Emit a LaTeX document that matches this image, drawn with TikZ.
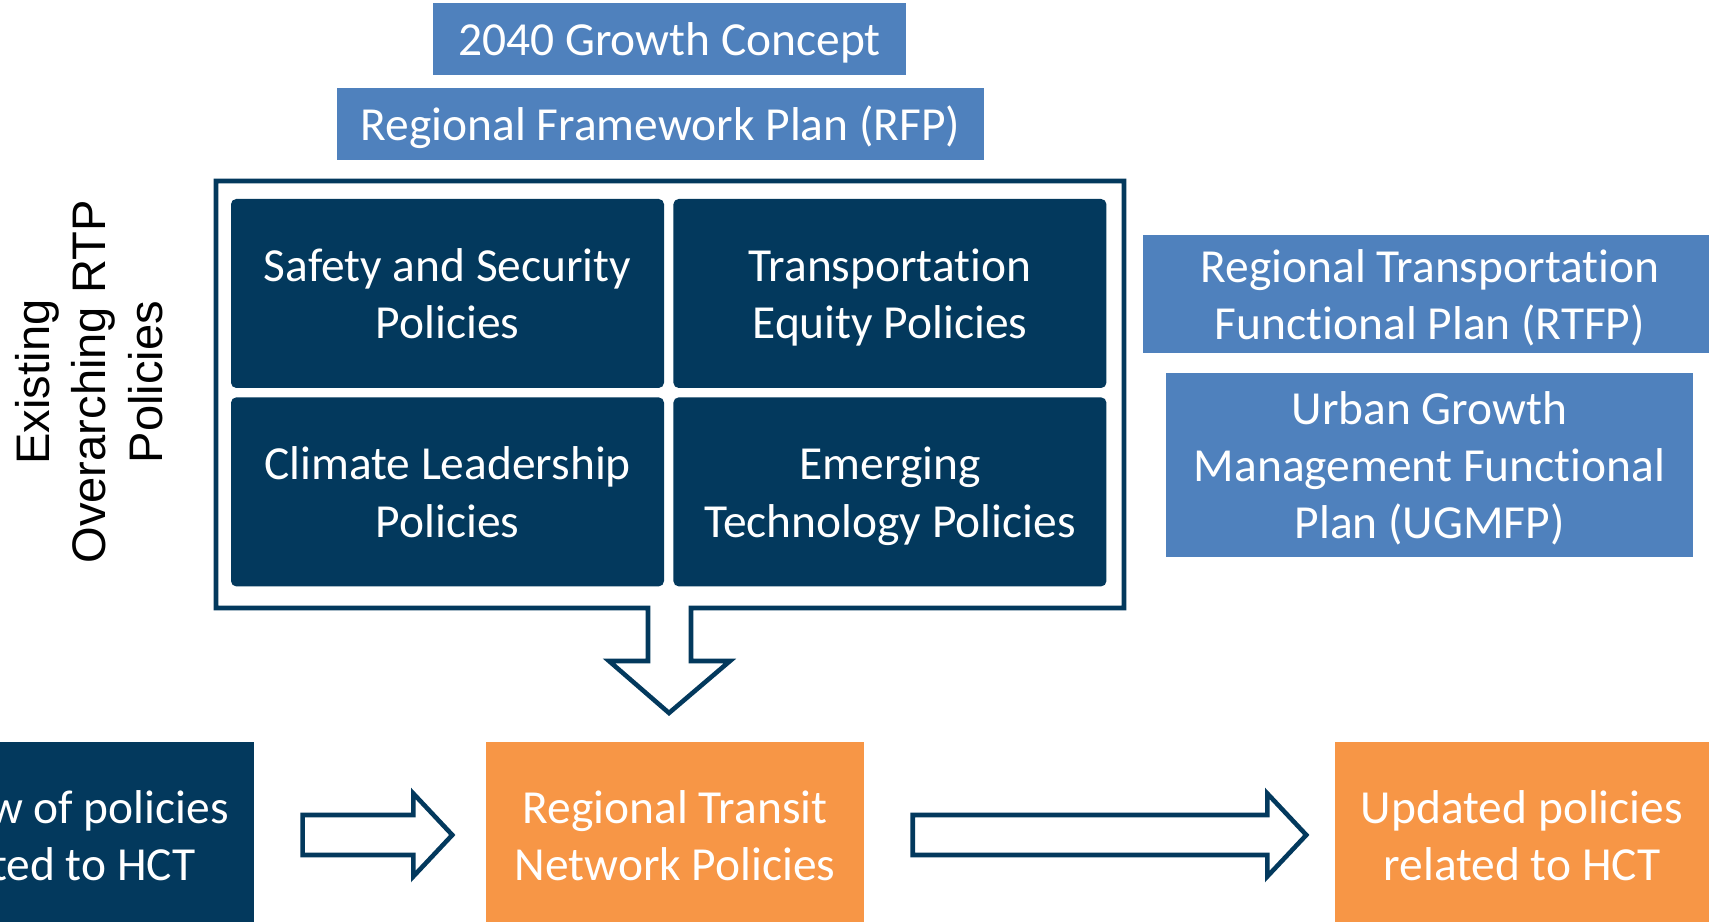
\documentclass[tikz,border=0pt]{standalone}
\usepackage{fontspec}
\setmainfont[Ligatures=NoCommon]{Carlito}
\newfontfamily\arialfont{Liberation Sans}
\usepackage{tikz}
\usetikzlibrary{calc,positioning}
\definecolor{navy}{RGB}{3,57,93}
\definecolor{planblue}{RGB}{79,129,189}
\definecolor{hctorange}{RGB}{247,150,70}
\newcommand{\boxfont}{\fontsize{13.5}{16.3}\selectfont}
% fixed first-line height and last-line depth, so all boxes centre alike
\newcommand{\lines}[1]{\rule{0pt}{12pt}#1\rule[-2.5pt]{0pt}{2.5pt}}
\newcommand{\linestrut}{\rule[-2.5pt]{0pt}{14.5pt}}
% hollow block arrow from #1 to tip #2
\newcommand{\blockarrow}[2]{%
  \draw[hollow] ($(#1)+(0,0.2)$) -- ($(#2)+(-0.39,0.2)$) -- ($(#2)+(-0.39,0.415)$)
    -- (#2) -- ($(#2)+(-0.39,-0.415)$) -- ($(#2)+(-0.39,-0.2)$) -- ($(#1)+(0,-0.2)$) -- cycle;}
\tikzset{
    %Define style for boxes
    policy/.style={
           rectangle,
           rounded corners=1.5pt,
           fill=navy,
           text=white,
           minimum width=4.33cm,
           minimum height=1.89cm,
           inner sep=0pt,
           font=\boxfont,
           align=center,
           },
    plan/.style={
           rectangle,
           fill=planblue,
           text=white,
           inner sep=0pt,
           font=\boxfont,
           align=center,
           },
    banner/.style={
           rectangle,
           fill=planblue,
           text=white,
           inner sep=0pt,
           minimum height=0.72cm,
           font=\boxfont,
           execute at begin node=\linestrut,
           },
    stage/.style={
           rectangle,
           fill=hctorange,
           text=white,
           minimum width=3.78cm,
           minimum height=1.86cm,
           inner sep=0pt,
           font=\boxfont,
           align=center,
           },
    % Define arrow style
    hollow/.style={
           draw=navy,
           fill=white,
           line width=1.3pt,
           line join=miter,},
}
\begin{document}
\begin{tikzpicture}[node distance=0.08cm]
\useasboundingbox (0,0) rectangle (17.09,9.22);
\clip (0,0) rectangle (17.09,9.22);
% frame round the policies, opening into the down arrow
\draw[hollow] (6.48,3.14) -- (2.16,3.14) -- (2.16,7.41) -- (11.24,7.41) -- (11.24,3.14)
  -- (6.91,3.14) -- (6.91,2.61) -- (7.30,2.61) -- (6.69,2.09) -- (6.09,2.61) -- (6.48,2.61) -- cycle;
\node[policy](safety) at (4.475,6.285){\lines{Safety and Security\\Policies}};
\node[policy, right=of safety](equity){\lines{Transportation\\Equity Policies}};
\node[policy, below=of safety](climate){\lines{Climate Leadership\\Policies}};
\node[policy, right=of climate](tech){\lines{Emerging\\Technology Policies}};
\node[banner, minimum width=4.73cm](growth) at (6.695,8.83){2040 Growth Concept};
\node[banner, minimum width=6.47cm](rfp) at (6.605,7.98){Regional Framework Plan (RFP)};
\node[plan, minimum width=5.75cm, minimum height=1.18cm](rtfp) at (14.30,6.28){\lines{Regional Transportation\\Functional Plan (RTFP)}};
\node[plan, minimum width=5.27cm, minimum height=1.84cm](ugmfp) at (14.295,4.57){\lines{Urban Growth\\Management Functional\\Plan (UGMFP)}};
\node[rotate=90, align=center, font=\arialfont\fontsize{13.4}{16.1}\selectfont](existing) at (0.89,5.40){Existing\\Overarching RTP\\Policies};
\node[policy, rounded corners=0pt, minimum width=3.94cm, minimum height=1.86cm](review) at (0.57,0.87){\lines{Review of policies\\related to HCT}};
\node[stage](transit) at (6.75,0.87){\lines{Regional Transit\\Network Policies}};
\node[stage, minimum width=3.74cm](updated) at (15.22,0.87){\lines{Updated policies\\related to HCT}};
\coordinate (a1) at ([xshift=4.8mm]review.east);
\coordinate (a1tip) at ([xshift=-3.3mm]transit.west);
\coordinate (a2) at ([xshift=4.8mm]transit.east);
\coordinate (a2tip) at ([xshift=-2.8mm]updated.west);
\blockarrow{a1}{a1tip}
\blockarrow{a2}{a2tip}
\end{tikzpicture}
\end{document}
